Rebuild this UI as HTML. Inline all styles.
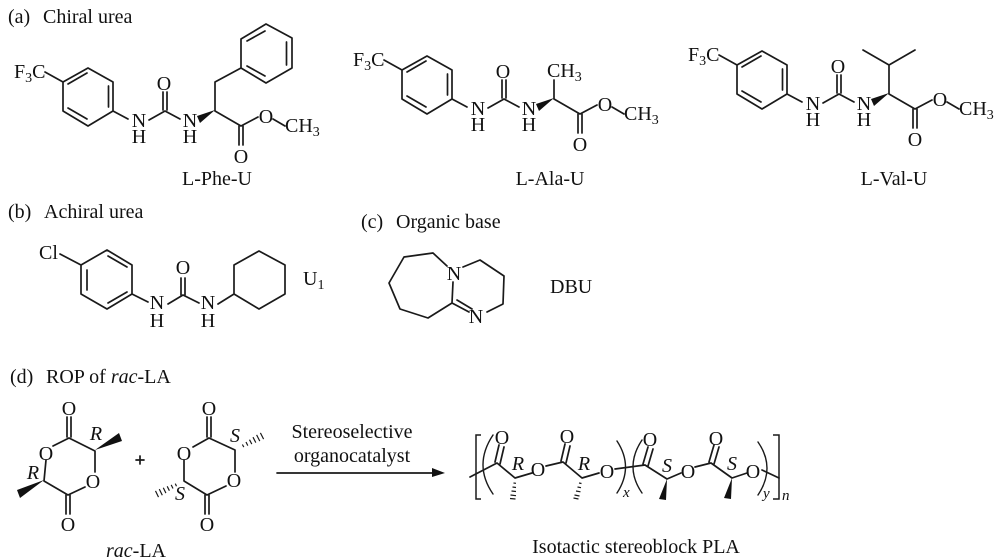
<!DOCTYPE html>
<html><head><meta charset="utf-8">
<style>
html,body{margin:0;padding:0;background:#fff;width:1000px;height:560px;overflow:hidden}
svg{display:block;filter:blur(.35px)}
text{font-family:"Liberation Serif","Times New Roman",serif;font-size:20px;fill:#111}
.m{text-anchor:middle}
.l{fill:none;stroke:#1a1a1a;stroke-width:1.7;stroke-linecap:round;stroke-linejoin:round}
.h{fill:none;stroke:#1a1a1a;stroke-width:1.5}
.d{fill:none;stroke:#1a1a1a;stroke-width:1.2}
.w{fill:#111;stroke:none}
.i{font-style:italic}
</style></head><body>
<svg width="1000" height="560" viewBox="0 0 1000 560" xmlns="http://www.w3.org/2000/svg">
<rect width="1000" height="560" fill="#fff"/>

<text x="8" y="23">(a)</text><text x="43" y="23">Chiral urea</text>

<!-- L-Phe-U -->
<g>
<path class="l" d="M88 68L113 82V111L88 126L63 111V82ZM68 84L87 73M108.500 86V107M68 108L87 119M45 72L63 82M113 111L128 119M149 120L165 111L180 119M163 92V110M167 92V110M215 111V82L241 68M215 111L241 126L258 117M273 119L285 126M239 126V145M243 126V145M241 68V39L266 24L292 38V68L266 83ZM247 41L265 31M286.500 42V65M247 66L265 76"/>
<path class="w" d="M215 110L197 116L200 123Z"/>
<text x="14" y="78">F<tspan font-size="14" dy="4">3</tspan><tspan dy="-4">C</tspan></text>
<text class="m" x="139" y="127">N</text><text class="m" x="139" y="143">H</text>
<text class="m" x="164" y="90">O</text>
<text class="m" x="190" y="127">N</text><text class="m" x="190" y="143">H</text>
<text class="m" x="266" y="123">O</text>
<text class="m" x="241" y="163">O</text>
<text x="285" y="132">CH<tspan font-size="14" dy="4">3</tspan></text>
</g>
<text class="m" x="217" y="185">L-Phe-U</text>

<!-- L-Ala-U -->
<g>
<path class="l" d="M427 56L452 70V99L427 114L402 99V70ZM407 72L426 61M447.500 74V95M407 96L426 107M384 60L402 70M452 99L467 107M488 108L504 99L519 107M502 80V98M506 80V98M554 99V80M554 99L580 114L597 105M612 107L624 114M578 114V133M582 114V133"/>
<path class="w" d="M554 98L536 104L539 111Z"/>
<text x="353" y="66">F<tspan font-size="14" dy="4">3</tspan><tspan dy="-4">C</tspan></text>
<text class="m" x="478" y="115">N</text><text class="m" x="478" y="131">H</text>
<text class="m" x="503" y="78">O</text>
<text class="m" x="529" y="115">N</text><text class="m" x="529" y="131">H</text>
<text x="547" y="77">CH<tspan font-size="14" dy="4">3</tspan></text>
<text class="m" x="605" y="111">O</text>
<text class="m" x="580" y="151">O</text>
<text x="624" y="120">CH<tspan font-size="14" dy="4">3</tspan></text>
</g>
<text class="m" x="550" y="185">L-Ala-U</text>

<!-- L-Val-U -->
<g>
<path class="l" d="M762 51L787 65V94L762 109L737 94V65ZM742 67L761 56M782.500 69V90M742 91L761 102M719 55L737 65M787 94L802 102M823 103L839 94L854 102M837 75V93M841 75V93M889 94V65M863 50L889 65L915 50M889 94L915 109L932 100M947 102L959 109M913 109V128M917 109V128"/>
<path class="w" d="M889 93L871 99L874 106Z"/>
<text x="688" y="61">F<tspan font-size="14" dy="4">3</tspan><tspan dy="-4">C</tspan></text>
<text class="m" x="813" y="110">N</text><text class="m" x="813" y="126">H</text>
<text class="m" x="838" y="73">O</text>
<text class="m" x="864" y="110">N</text><text class="m" x="864" y="126">H</text>
<text class="m" x="940" y="106">O</text>
<text class="m" x="915" y="146">O</text>
<text x="959" y="115">CH<tspan font-size="14" dy="4">3</tspan></text>
</g>
<text class="m" x="894" y="185">L-Val-U</text>

<!-- (b) -->
<text x="8" y="218">(b)</text><text x="44" y="218">Achiral urea</text>
<path class="l" d="M107 250L132 265V294L107 309L81 294V265ZM108 256L127 267M87 270V290M108 303L127 292M60 254L81 265M132 294L148 302M168 304L183 295L199 303M181 278V295M185 278V295M218 304L234 294V265L259 251L285 265V294L259 309L234 294"/>
<text x="39" y="259">Cl</text>
<text class="m" x="157" y="309">N</text><text class="m" x="157" y="327">H</text>
<text class="m" x="183" y="274">O</text>
<text class="m" x="208" y="309">N</text><text class="m" x="208" y="327">H</text>
<text x="303" y="285">U<tspan font-size="14" dy="4">1</tspan></text>

<!-- (c) -->
<text x="361" y="228">(c)</text><text x="396" y="228">Organic base</text>
<path class="l" d="M447 266L433 253L404 257L389 283L400 309L428 318L452 303L453 282M452 303L469 312M457 300L472 309M487 312L503 304L504 276L480 260L463 267"/>
<text class="m" x="454" y="280">N</text><text class="m" x="476" y="323">N</text>
<text x="550" y="293">DBU</text>

<!-- (d) -->
<text x="10" y="383">(d)</text><text x="46" y="383">ROP of <tspan class="i">rac</tspan>-LA</text>

<path class="l" d="M67 417V437M71 417V437M69 438L53 446M46 460L44 481L68 495L85 487M95 472V451L69 438M66 495V514M70 495V514"/>
<path class="w" d="M95 450L119 433L122 441ZM44 480L17 490L20 498Z"/>
<text class="m" x="69" y="415">O</text><text class="m" x="46" y="460">O</text><text class="m" x="93" y="488">O</text><text class="m" x="68" y="531">O</text>
<text class="m i" x="96" y="440">R</text><text class="m i" x="33" y="479">R</text>

<path class="l" d="M136 460H144M140 456V464"/>

<path class="l" d="M207 417V437M211 417V437M209 438L193 447M184 460V481L207 495L226 486M235 472V450L209 438M205 495V514M209 495V514"/>
<path class="d" d="M242.400 444.500L243.800 447.100M246 442L247.800 445.600M249.500 439.700L251.800 444.100M253 437.200L255.800 442.600M256.600 434.900L259.800 441.100M260.400 432.900L263.600 439.100M175.300 483.600L176.500 486.200M171.200 484.900L173 488.500M167.200 486.300L169.400 490.700M163.300 487.700L165.900 493.100M159.300 489.100L162.300 495.300M155.500 490.900L158.500 497.100"/>
<text class="m" x="209" y="415">O</text><text class="m" x="184" y="460">O</text><text class="m" x="234" y="487">O</text><text class="m" x="207" y="531">O</text>
<text class="m i" x="235" y="442">S</text><text class="m i" x="180" y="500">S</text>

<text class="m" x="136" y="557"><tspan class="i">rac</tspan>-LA</text>

<!-- arrow -->
<path class="l" d="M277 473H436"/>
<path class="w" d="M432 468L445 473L432 477Z"/>
<text class="m" x="352" y="438">Stereoselective</text>
<text class="m" x="352" y="462">organocatalyst</text>

<!-- polymer -->
<path class="h" d="M481 435H476V499H481M773 435H779V499H773"/>
<path class="l" style="stroke-width:1.400" d="M493 435Q473 465 493 494M617 441Q634 467 617 493M642 440Q624 467 642 493M758 442Q776 468 758 495"/>
<path class="l" d="M470 477L497 463L515 478L532 473M546 466L563 462L582 478L599 473M615 469L645 465L667 479L681 473M695 467L711 463L732 478L747 473M762 470L779 478M495 462L499 445M500 464L504 447M561 461L565 444M566 463L570 446M643 464L648 447M648 466L653 449M709 462L714 445M714 464L719 447"/>
<path class="w" d="M667 479L659 499L666 500ZM732 478L724 498L731 499Z"/>
<path class="d" d="M513.500 483L516 483.300M512.500 487L516 487.500M511.500 491L516 491.500M510.500 495L516 495.700M510 498.500L515.500 499M579 483L581.500 483.500M577.500 487L581 487.700M576 491L580.500 491.800M574.500 495L579.500 496M573.500 498L578.500 499"/>
<text class="m" x="502" y="444">O</text><text class="m" x="538" y="476">O</text><text class="m" x="567" y="443">O</text><text class="m" x="607" y="478">O</text><text class="m" x="650" y="446">O</text><text class="m" x="688" y="478">O</text><text class="m" x="716" y="445">O</text><text class="m" x="753" y="478">O</text>
<text class="m i" x="518" y="470">R</text><text class="m i" x="584" y="470">R</text><text class="m i" x="667" y="472">S</text><text class="m i" x="732" y="470">S</text>
<text class="i" x="623" y="497" style="font-size:15px">x</text><text class="i" x="763" y="498" style="font-size:15px">y</text><text class="i" x="782" y="500" style="font-size:15px">n</text>
<text class="m" x="636" y="553">Isotactic stereoblock PLA</text>
</svg>
</body></html>
